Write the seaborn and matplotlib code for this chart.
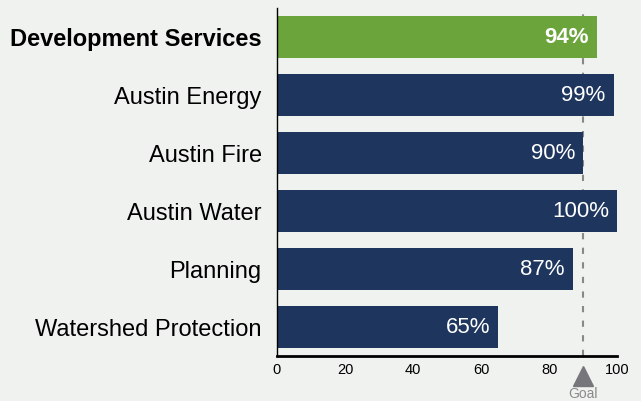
import pandas as pd
import seaborn as sns
import matplotlib.pyplot as plt

departments = ["Development Services", "Austin Energy", "Austin Fire",
               "Austin Water", "Planning", "Watershed Protection"]
scores = [94, 99, 90, 100, 87, 65]
goal = 90

bg = "#f0f2f0"
green = "#6ba43a"
navy = "#1e355e"

df = pd.DataFrame({"dept": departments, "score": scores})

sns.set_theme(style="white")
plt.rcParams["font.family"] = ["Liberation Sans", "DejaVu Sans"]

fig = plt.figure(figsize=(6.41, 4.01), dpi=100, facecolor=bg)
ax = fig.add_axes([0.432, 0.112, 0.531, 0.868])
ax.set_facecolor(bg)

palette = [green] + [navy] * (len(departments) - 1)
sns.barplot(data=df, x="score", y="dept", hue="dept", palette=palette,
            width=0.72, legend=False, ax=ax, saturation=1, linewidth=0)

ax.set_xlim(0, 100)
ax.set_ylim(5.5, -0.5)
ax.set_xticks([0, 20, 40, 60, 80, 100])
ax.tick_params(axis="x", direction="in", length=6, width=1.5, labelsize=10.5,
               colors="black", pad=5)
ax.tick_params(axis="y", length=0, labelsize=17, pad=11)
ax.set_xlabel("")
ax.set_ylabel("")
for s in ["top", "right"]:
    ax.spines[s].set_visible(False)
ax.spines["bottom"].set_linewidth(2)
ax.spines["bottom"].set_color("black")
ax.spines["left"].set_linewidth(1)
ax.spines["left"].set_color("black")

for lbl in ax.get_yticklabels():
    lbl.set_color("black")
    if lbl.get_text() == "Development Services":
        lbl.set_fontweight("bold")

for i, v in enumerate(scores):
    ax.text(v - 2.4, i, f"{v}%", color="white", ha="right", va="center",
            fontsize=16, fontweight="bold" if i == 0 else "normal")

ax.axvline(goal, color="#888888", linestyle=(0, (3, 4)), linewidth=1.5, zorder=0)
ax.plot([goal], [5.84], marker="^", markersize=14, color="#77767b",
        clip_on=False, linestyle="none")
ax.text(goal, 6.15, "Goal", color="#8a8a8a", ha="center", va="center",
        fontsize=10, clip_on=False)

fig.savefig("out.png", dpi=100, facecolor=bg)
